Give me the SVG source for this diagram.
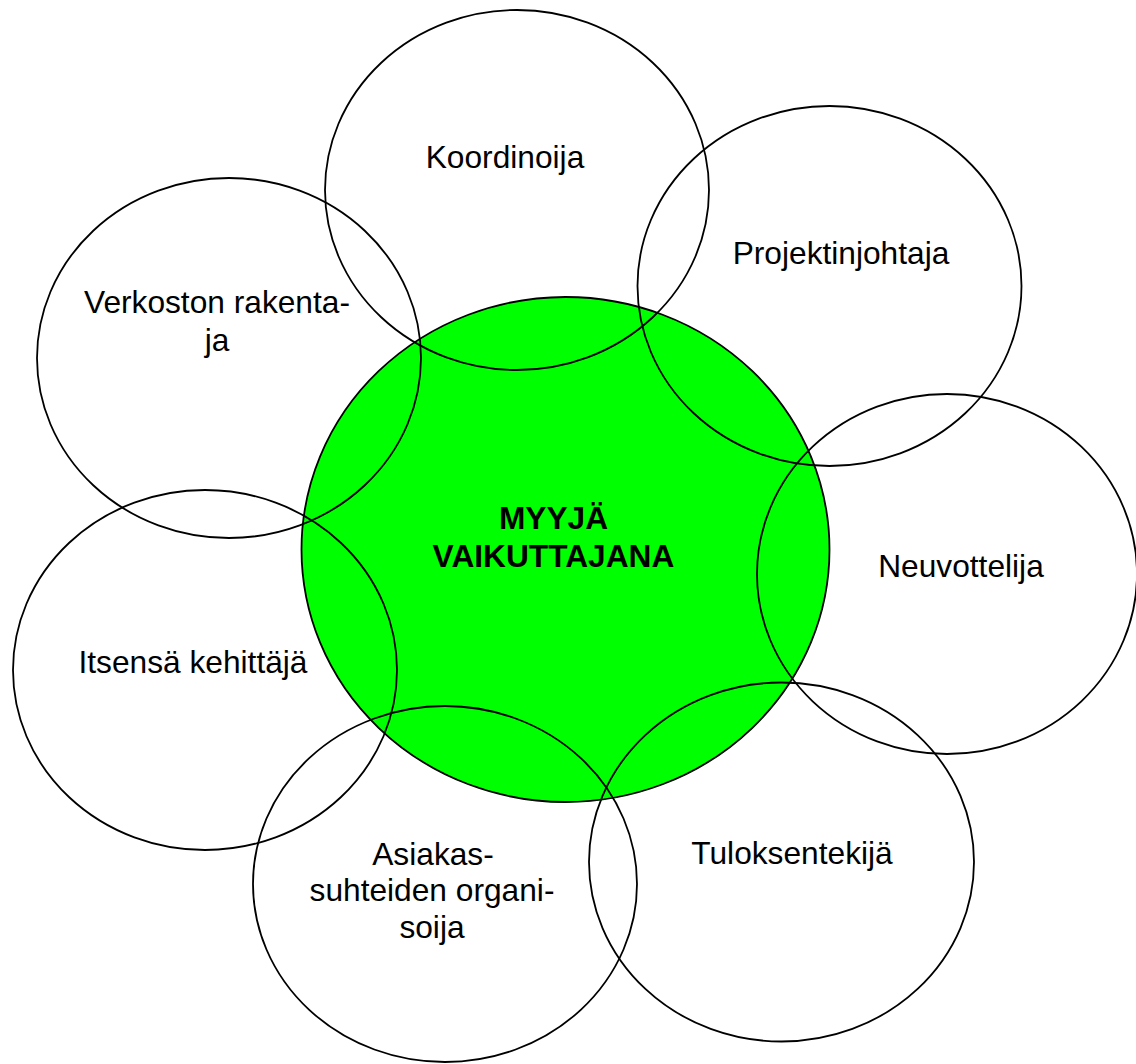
<svg xmlns="http://www.w3.org/2000/svg" width="1136" height="1064" viewBox="0 0 1136 1064">
<style>
.bg{fill:#ffffff}
.center{fill:#00ff00;stroke:#000;stroke-width:1.8}
.ring{fill:none;stroke:#000;stroke-width:1.8}
.lbl{font-family:"Liberation Sans",Arial,sans-serif;font-size:31.7px;fill:#000;text-anchor:middle}
.bold{font-weight:bold}
</style>
<rect class="bg" x="0" y="0" width="1136" height="1064"/>
<g id="center-node">
<ellipse class="center" cx="565.5" cy="549.5" rx="264" ry="252.5"/>
</g>
<g id="connectors"></g>
<g id="node-koordinoija">
<ellipse class="ring" cx="517" cy="190" rx="192" ry="180"/>
<text class="lbl" x="505" y="168">Koordinoija</text>
</g>
<g id="node-projektinjohtaja">
<ellipse class="ring" cx="829.5" cy="286" rx="192" ry="180"/>
<text class="lbl" x="841" y="264">Projektinjohtaja</text>
</g>
<g id="node-verkoston">
<ellipse class="ring" cx="229" cy="358" rx="192" ry="180"/>
<text class="lbl" x="217" y="313">Verkoston rakenta-</text>
<text class="lbl" x="217" y="350.5">ja</text>
</g>
<g id="node-neuvottelija">
<ellipse class="ring" cx="947" cy="574" rx="190" ry="180"/>
<text class="lbl" x="961" y="577">Neuvottelija</text>
</g>
<g id="node-itsensa">
<ellipse class="ring" cx="205" cy="670" rx="192" ry="180"/>
<text class="lbl" x="193" y="673">Itsensä kehittäjä</text>
</g>
<g id="node-asiakas">
<ellipse class="ring" cx="445" cy="884" rx="192" ry="178"/>
<text class="lbl" x="433" y="865">Asiakas-</text>
<text class="lbl" x="432" y="901">suhteiden organi-</text>
<text class="lbl" x="432" y="938">soija</text>
</g>
<g id="node-tuloksentekija">
<ellipse class="ring" cx="781.5" cy="862" rx="192.5" ry="179.5"/>
<text class="lbl" x="792" y="864">Tuloksentekijä</text>
</g>
<g id="center-label">
<text class="lbl bold" x="553.5" y="529">MYYJÄ</text>
<text class="lbl bold" x="553.5" y="566.5">VAIKUTTAJANA</text>
</g>
</svg>
